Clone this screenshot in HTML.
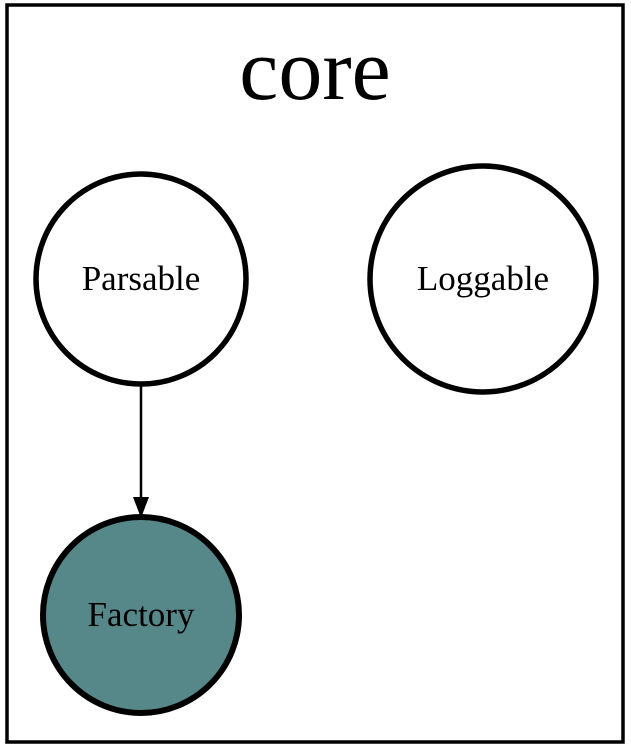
<!DOCTYPE html>
<html><head><style>html,body{margin:0;padding:0;background:#fff;width:631px;height:748px;overflow:hidden}</style></head>
<body>
<svg width="631" height="748" xmlns="http://www.w3.org/2000/svg">
<rect x="7" y="5" width="616" height="737" fill="#fff" stroke="#000" stroke-width="3.5"/>
<text x="315" y="99" text-anchor="middle" font-family="Liberation Serif, serif" font-size="88">core</text>
<circle cx="141" cy="279" r="105" fill="#fff" stroke="#000" stroke-width="5.5"/>
<text x="141" y="290" text-anchor="middle" font-family="Liberation Serif, serif" font-size="35">Parsable</text>
<circle cx="483" cy="279" r="113" fill="#fff" stroke="#000" stroke-width="5.5"/>
<text x="483" y="290" text-anchor="middle" font-family="Liberation Serif, serif" font-size="35">Loggable</text>
<line x1="141" y1="385" x2="141" y2="498" stroke="#000" stroke-width="2.5"/>
<polygon points="133,497 149,497 141,518" fill="#000"/>
<circle cx="141" cy="615" r="98" fill="#56888a" stroke="#000" stroke-width="6"/>
<text x="141" y="626" text-anchor="middle" font-family="Liberation Serif, serif" font-size="35">Factory</text>
</svg>
</body></html>
